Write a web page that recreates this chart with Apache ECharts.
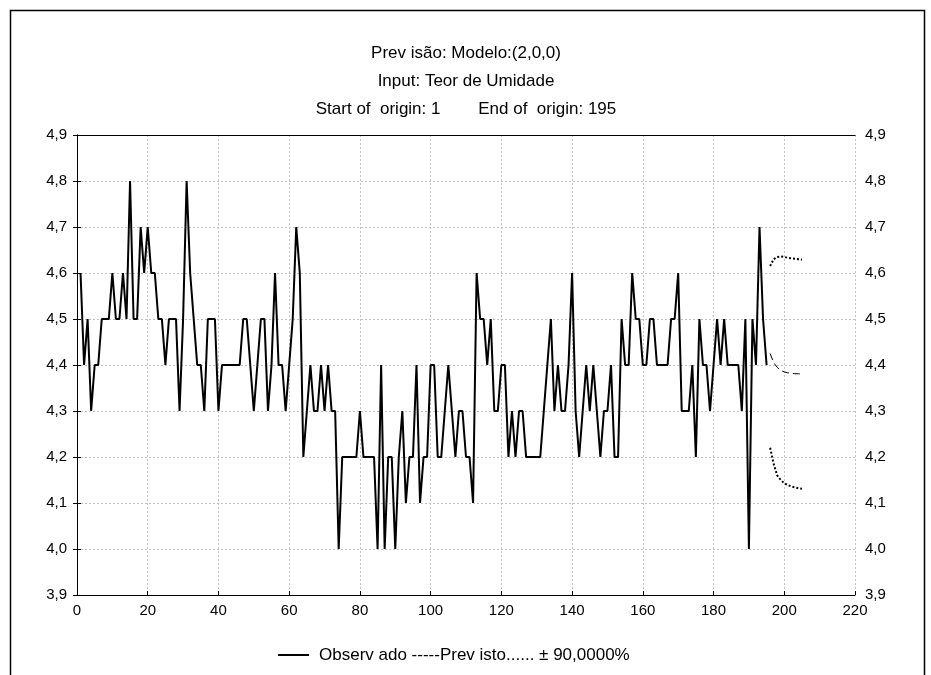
<!DOCTYPE html>
<html>
<head>
<meta charset="utf-8">
<script src="https://cdn.jsdelivr.net/npm/echarts@6/dist/echarts.min.js"></script>
<style>
  html, body { margin: 0; padding: 0; background: #fff; }
  #chart { width: 931px; height: 675px; }
</style>
</head>
<body>
<div id="chart"></div>
<script>
// observed values, cases 1..195
var observado = [
  4.6, 4.4, 4.5, 4.3, 4.4, 4.4, 4.5, 4.5, 4.5, 4.6, 4.5, 4.5, 4.6, 4.5, 4.8, 4.5, 4.5, 4.7, 4.6, 4.7,
  4.6, 4.6, 4.5, 4.5, 4.4, 4.5, 4.5, 4.5, 4.3, 4.5, 4.8, 4.6, 4.5, 4.4, 4.4, 4.3, 4.5, 4.5, 4.5, 4.3,
  4.4, 4.4, 4.4, 4.4, 4.4, 4.4, 4.5, 4.5, 4.4, 4.3, 4.4, 4.5, 4.5, 4.3, 4.4, 4.6, 4.4, 4.4, 4.3, 4.4,
  4.5, 4.7, 4.6, 4.2, 4.3, 4.4, 4.3, 4.3, 4.4, 4.3, 4.4, 4.3, 4.3, 4.0, 4.2, 4.2, 4.2, 4.2, 4.2, 4.3,
  4.2, 4.2, 4.2, 4.2, 4.0, 4.4, 4.0, 4.2, 4.2, 4.0, 4.2, 4.3, 4.1, 4.2, 4.2, 4.4, 4.1, 4.2, 4.2, 4.4,
  4.4, 4.2, 4.2, 4.3, 4.4, 4.3, 4.2, 4.3, 4.3, 4.2, 4.2, 4.1, 4.6, 4.5, 4.5, 4.4, 4.5, 4.3, 4.3, 4.4,
  4.4, 4.2, 4.3, 4.2, 4.3, 4.3, 4.2, 4.2, 4.2, 4.2, 4.2, 4.3, 4.4, 4.5, 4.3, 4.4, 4.3, 4.3, 4.4, 4.6,
  4.3, 4.2, 4.3, 4.4, 4.3, 4.4, 4.3, 4.2, 4.3, 4.3, 4.4, 4.2, 4.2, 4.5, 4.4, 4.4, 4.6, 4.5, 4.5, 4.4,
  4.4, 4.5, 4.5, 4.4, 4.4, 4.4, 4.4, 4.5, 4.5, 4.6, 4.3, 4.3, 4.3, 4.4, 4.2, 4.5, 4.4, 4.4, 4.3, 4.4,
  4.5, 4.4, 4.5, 4.4, 4.4, 4.4, 4.4, 4.3, 4.5, 4.0, 4.5, 4.4, 4.7, 4.5, 4.4
];
var inicioObs = 1;

// forecast, cases 196..205
var inicioPrev = 196;
var previsto = [4.425, 4.405, 4.395, 4.388, 4.385, 4.383, 4.382, 4.381, 4.381, 4.380];
var limSup   = [4.615, 4.630, 4.635, 4.636, 4.635, 4.633, 4.632, 4.631, 4.630, 4.629];
var limInf   = [4.220, 4.185, 4.160, 4.150, 4.143, 4.139, 4.136, 4.134, 4.132, 4.131];

var xMin = 0, xMax = 220, xStep = 20;
var yMin = 3.9, yMax = 4.9, yStep = 0.1;

var titulo = ['Prev isão: Modelo:(2,0,0)', 'Input: Teor de Umidade', 'Start of  origin: 1        End of  origin: 195'];
var legendaTxt = 'Observ ado -----Prev isto...... \u00b1 90,0000%';

function pares(arr, inicio) {
    var out = [];
    for (var i = 0; i < arr.length; i++) out.push([inicio + i, arr[i]]);
    return out;
}
function fmtY(v) { return v.toFixed(1).replace('.', ','); }

var fonte = '"Liberation Sans", Arial, sans-serif';
var chart = echarts.init(document.getElementById('chart'), null, { renderer: 'canvas' });

var grade = { color: '#c0c0c0', type: [2, 2], width: 1 };

var yAxisBase = function (pos) {
    return {
        type: 'value', position: pos, min: yMin, max: yMax, interval: yStep,
        axisLine: { show: true, lineStyle: { color: '#000', width: 1 } },
        axisTick: { show: true, inside: true, length: 4, lineStyle: { color: '#000' } },
        axisLabel: { color: '#000', fontSize: 15, fontFamily: fonte, margin: 10, formatter: fmtY },
        splitLine: { show: pos === 'left', lineStyle: grade }
    };
};

var option = {
    backgroundColor: '#fff',
    animation: false,
    grid: { left: 77, right: 76, top: 135, bottom: 80 },
    xAxis: [{
        type: 'value', position: 'bottom', min: xMin, max: xMax, interval: xStep,
        axisLine: { show: true, lineStyle: { color: '#000', width: 1 } },
        axisTick: { show: true, inside: true, length: 4, lineStyle: { color: '#000' } },
        axisLabel: { color: '#000', fontSize: 15, fontFamily: fonte, margin: 8 },
        splitLine: { show: true, lineStyle: grade }
    }, {
        // top frame line of the plot
        type: 'value', position: 'top', min: xMin, max: xMax, interval: xStep,
        axisLine: { show: true, lineStyle: { color: '#000', width: 1 } },
        axisTick: { show: false }, axisLabel: { show: false }, splitLine: { show: false }
    }],
    yAxis: [yAxisBase('left'), yAxisBase('right')],
    series: [
        { name: 'Observado', type: 'line', data: pares(observado, inicioObs), showSymbol: false,
          lineStyle: { color: '#000', width: 2 } },
        { name: 'Previsto', type: 'line', data: pares(previsto, inicioPrev), showSymbol: false,
          lineStyle: { color: '#000', width: 1, type: [7, 4] } },
        { name: 'Sup', type: 'line', data: pares(limSup, inicioPrev), showSymbol: false,
          lineStyle: { color: '#000', width: 2, type: [2, 2] } },
        { name: 'Inf', type: 'line', data: pares(limInf, inicioPrev), showSymbol: false,
          lineStyle: { color: '#000', width: 2, type: [2, 2] } }
    ],
    graphic: [
        { type: 'rect', left: 8, top: 8, shape: { width: 914, height: 700 }, silent: true,
          style: { fill: 'none', stroke: '#000', lineWidth: 1.5 } },
        { type: 'text', x: 466, y: 53, style: { text: titulo[0], font: '17px ' + fonte, fill: '#000', align: 'center', verticalAlign: 'middle' } },
        { type: 'text', x: 466, y: 81, style: { text: titulo[1], font: '17px ' + fonte, fill: '#000', align: 'center', verticalAlign: 'middle' } },
        { type: 'text', x: 466, y: 109, style: { text: titulo[2], font: '17px ' + fonte, fill: '#000', align: 'center', verticalAlign: 'middle' } },
        { type: 'line', shape: { x1: 278, y1: 655, x2: 309, y2: 655 }, style: { stroke: '#000', lineWidth: 2 } },
        { type: 'text', x: 319, y: 655, style: { text: legendaTxt, font: '17px ' + fonte, fill: '#000', align: 'left', verticalAlign: 'middle' } }
    ]
};
chart.setOption(option);
</script>
</body>
</html>
